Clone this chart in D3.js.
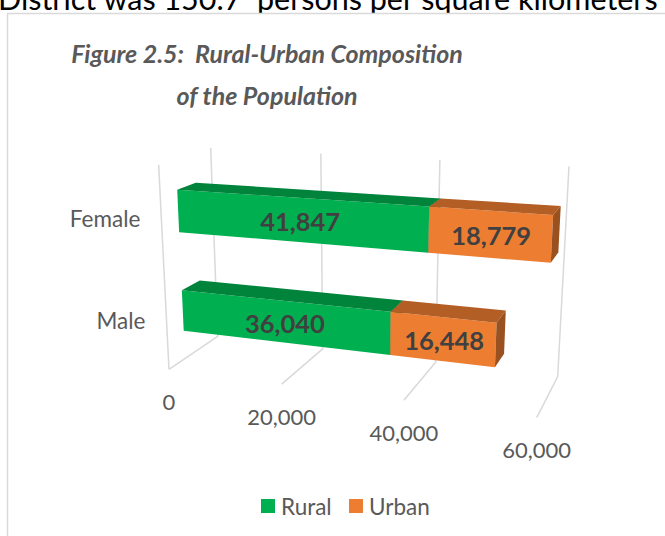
<!DOCTYPE html>
<html>
<head>
<meta charset="utf-8">
<script src="https://cdn.jsdelivr.net/npm/d3@7"></script>
<style>
  body { margin: 0; background: #fff; }
  svg { display: block; }
  text { font-family: Lato, "Open Sans", sans-serif; }
</style>
</head>
<body>
<div id="chart"></div>
<script>
// chart values
const categories = ["Male", "Female"];
const series = ["Rural", "Urban"];
const rural = [36040, 41847];
const urban = [16448, 18779];
const tickValues = [0, 20000, 40000, 60000];
const colors = ["#00B050", "#ED7D31"];

const width = 665, height = 536;

const svg = d3.select("#chart").append("svg")
    .attr("width", width)
    .attr("height", height);

// bit of the document text above the chart (cut off)
svg.append("text")
    .attr("x", -2)
    .attr("y", 10)
    .attr("fill", "#000")
    .style("font-size", "30.5px")
    .style("white-space", "pre")
    .text("District was 150.7  persons per square kilometers in");

// chart area border
svg.append("rect")
    .attr("x", 7.5).attr("y", 13.5)
    .attr("width", 700).attr("height", 600)
    .attr("fill", "#fff")
    .attr("stroke", "#d9d9d9")
    .attr("stroke-width", 1.5);

// title
const title = svg.append("text")
    .attr("text-anchor", "middle")
    .attr("fill", "#595959")
    .style("font-size", "25px")
    .style("font-weight", "bold")
    .style("font-style", "italic")
    .style("white-space", "pre");
title.append("tspan").attr("x", 267).attr("y", 63).text("Figure 2.5:  Rural-Urban Composition");
title.append("tspan").attr("x", 267).attr("y", 105).text("of the Population");

// 3-D space: x = value (0..1), y = height (0..1), z = depth (0 front, 1 back wall)
const x = d3.scaleLinear().domain([0, 60000]).range([0, 1]);
const y = d3.scaleBand().domain(categories).range([0, 1])
    .paddingInner(0.584).paddingOuter(0.292);
const zFront = 0.31, zBack = 0.67;

// perspective camera matrix, columns: x, y, z, origin (fitted to the excel 3-D rotation)
const cam = [
    [305.4, -18.6, 68.0, 169],
    [-0.1, -213, -3.0, 369.3],
    [-0.1161, -0.052, 0.0887, 1]
];
function project(p) {
    const r = cam.map(row => row[0] * p[0] + row[1] * p[1] + row[2] * p[2] + row[3]);
    return [r[0] / r[2], r[1] / r[2]];
}
const line = d3.line();
const poly = pts => line(pts.map(project)) + "Z";

// gridlines: back wall + floor
const grid = svg.append("g")
    .attr("fill", "none")
    .attr("stroke", "#d9d9d9")
    .attr("stroke-width", 1.5);
grid.append("path")
    .attr("d", line([[0, 1, 0], [0, 0, 0]].map(project)));
grid.selectAll(".tick")
    .data(tickValues)
    .enter().append("path")
    .attr("d", d => line([[x(d), 1, 1], [x(d), 0, 1], [x(d), 0, 0]].map(project)));

// value axis labels
svg.append("g").selectAll("text")
    .data(tickValues)
    .enter().append("text")
    .attr("x", d => project([x(d), 0, 0])[0])
    .attr("y", d => project([x(d), 0, 0])[1] + 32)
    .attr("text-anchor", "middle")
    .attr("dominant-baseline", "central")
    .attr("fill", "#595959")
    .style("font-size", "22px")
    .text(d3.format(","));

// category labels
svg.append("g").selectAll("text")
    .data(categories)
    .enter().append("text")
    .attr("x", d => project([0, y(d) + y.bandwidth() / 2, 0])[0] - 21)
    .attr("y", d => project([0, y(d) + y.bandwidth() / 2, 0])[1])
    .attr("text-anchor", "end")
    .attr("dominant-baseline", "central")
    .attr("fill", "#595959")
    .style("font-size", "22.5px")
    .text(d => d);

// stacked bars
const rows = categories.map((c, i) => ({cat: c, Rural: rural[i], Urban: urban[i]}));
const stacked = d3.stack().keys(series)(rows);
const maxV = x.domain()[1];

const segs = [];
rows.forEach((r, i) => {
    stacked.forEach((s, k) => {
        segs.push({cat: r.cat, key: s.key, k: k, v0: s[i][0], v1: s[i][1], value: s[i][1] - s[i][0]});
    });
});

const bars = svg.append("g");
segs.forEach(d => {
    // excel clips the bar at the axis maximum
    const x0 = x(Math.min(d.v0, maxV)), x1 = x(Math.min(d.v1, maxV));
    const y0 = y(d.cat), y1 = y(d.cat) + y.bandwidth();
    const c = colors[d.k];
    const g = bars.append("g");
    g.append("path")
        .attr("d", poly([[x0, y0, zFront], [x1, y0, zFront], [x1, y1, zFront], [x0, y1, zFront]]))
        .attr("fill", c);
    g.append("path")
        .attr("d", poly([[x0, y1, zFront], [x1, y1, zFront], [x1, y1, zBack], [x0, y1, zBack]]))
        .attr("fill", d3.color(c).darker(0.8));
    g.append("path")
        .attr("d", poly([[x1, y0, zFront], [x1, y1, zFront], [x1, y1, zBack], [x1, y0, zBack]]))
        .attr("fill", d3.color(c).darker(1.2));
    d.lx = (x0 + x1) / 2;
    d.ly = (y0 + y1) / 2;
});

// value labels
svg.append("g").selectAll("text")
    .data(segs)
    .enter().append("text")
    .attr("x", d => project([d.lx, d.ly, zFront])[0] + 2)
    .attr("y", d => project([d.lx, d.ly, zFront])[1] + 1)
    .attr("text-anchor", "middle")
    .attr("dominant-baseline", "central")
    .attr("fill", "#404040")
    .style("font-size", "25.5px")
    .style("font-weight", "bold")
    .text(d => d3.format(",")(d.value));

// legend
const legend = svg.append("g")
    .attr("transform", "translate(261,506)");
const item = legend.selectAll("g")
    .data(series)
    .enter().append("g")
    .attr("transform", (d, i) => "translate(" + i * 88 + ",0)");
item.append("rect")
    .attr("y", -7)
    .attr("width", 14).attr("height", 14)
    .attr("fill", (d, i) => colors[i]);
item.append("text")
    .attr("x", 20)
    .attr("dominant-baseline", "central")
    .attr("fill", "#595959")
    .style("font-size", "22.5px")
    .text(d => d);
</script>
</body>
</html>
